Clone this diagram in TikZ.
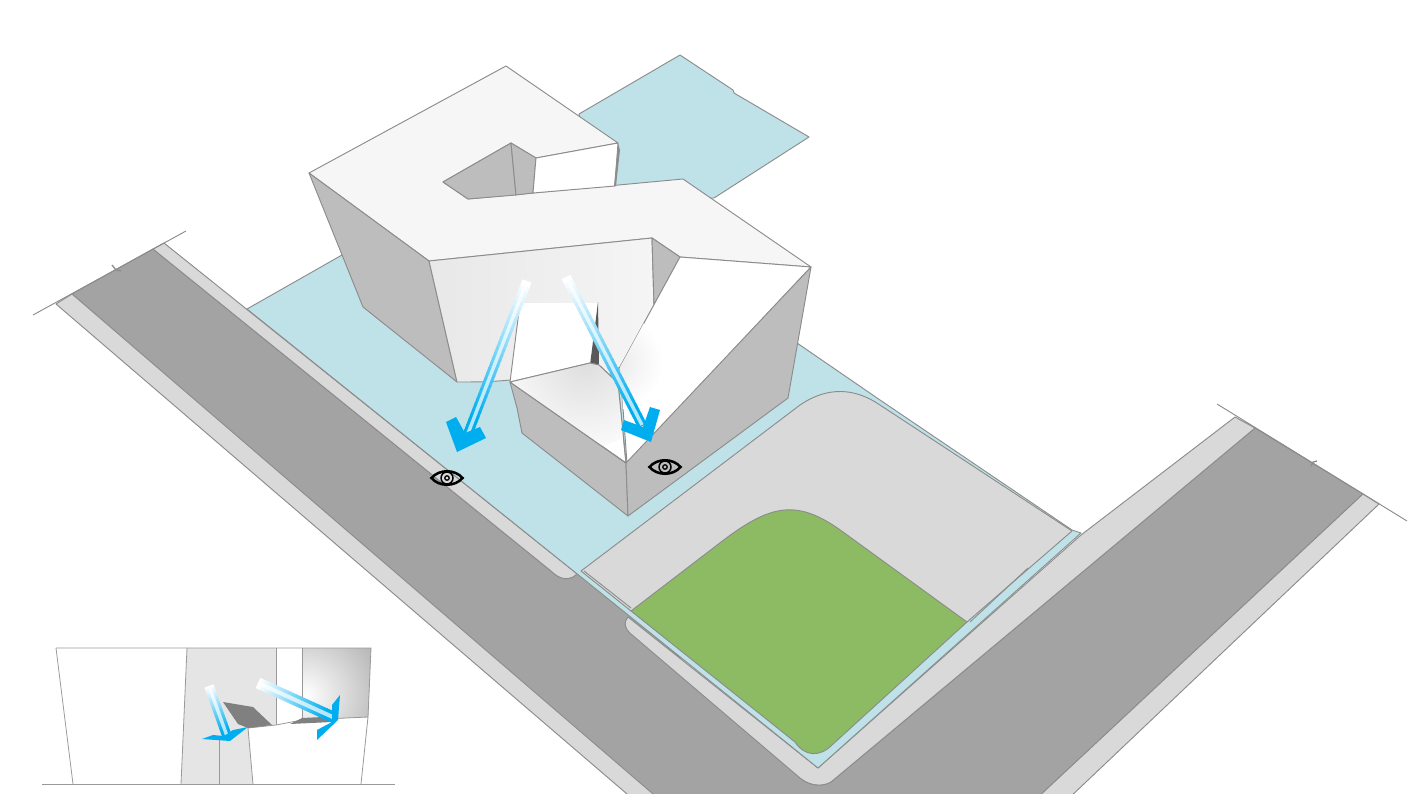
\documentclass[tikz,border=0pt]{standalone}
\usepackage{xcolor}
\usetikzlibrary{arrows.meta, calc, positioning}
\definecolor{sitecolor}{RGB}{191,226,232}
\definecolor{roadcolor}{RGB}{163,163,163}
\definecolor{walkcolor}{RGB}{217,217,217}
\definecolor{lawncolor}{RGB}{140,187,100}
\definecolor{wallcolor}{RGB}{189,189,189}
\definecolor{roofcolor}{RGB}{246,246,246}
\definecolor{flowcolor}{RGB}{0,174,239}
\definecolor{edgecolor}{RGB}{140,140,140}

% shaft from white to blue, pale line down its middle
\newcommand{\flowbar}[3]{
  \foreach \t in {0,...,29} {
    \pgfmathsetmacro\ta{\t/30}
    \pgfmathsetmacro\tb{(\t+1.2)/30}
    \pgfmathsetmacro\mix{min(100,\t*100/26)}
    \draw[line width=#3, flowcolor!\mix!white] ($(#1)!\ta!(#2)$) -- ($(#1)!\tb!(#2)$);
  }
  \draw[white, opacity=0.7, line width=0.36*#3] (#1) -- (#2);
}

\begin{document}
\begin{tikzpicture}[
  x=0.75pt, y=-0.75pt,
  edge/.style={draw=edgecolor, line width=0.7pt, line join=round},
  site/.style={edge, fill=sitecolor},
  road/.style={edge, fill=roadcolor},
  walk/.style={edge, fill=walkcolor},
  wall/.style={edge, fill=wallcolor},
  roof/.style={edge, fill=roofcolor},
  blank/.style={edge, fill=white},
  flowhead/.style={fill=flowcolor},
  insetline/.style={draw=black!40, line width=0.6pt},
  eyeicon/.pic={
    \draw[black, line width=1.9pt] (-15.5,0) .. controls (-8,-9) and (8,-9) .. (15.5,0)
      .. controls (8,9) and (-8,9) .. (-15.5,0) -- cycle;
    \draw[black, line width=1.1pt] (0,0) circle (6);
    \draw[black, line width=1pt] (0,0) circle (2.2);
  }
]
\useasboundingbox (0,0) rectangle (1416,799);
\clip (0,0) rectangle (1416,793);

% ground
\draw[road] (72,294) -- (153,249) -- (551,571) .. controls (558,578) and (567,582) .. (576,575)
  -- (576,572) -- (632,610) -- (800,778) .. controls (810,786) and (822,787) .. (831,782)
  -- (1255,428) -- (1363,494) -- (1035,800) -- (651,800) -- cycle;
\draw[walk] (56,304) -- (72,294) -- (660,800) -- (634,800) -- cycle;
\draw[walk] (1363,494) -- (1379,504) -- (1067,800) -- (1035,800) -- cycle;
\draw[walk] (153,249) -- (164,243) -- (576,573) -- (576,575)
  .. controls (567,582) and (558,578) .. (551,571) -- cycle;
\draw[walk] (1235,417) -- (1255,428) -- (831,782) .. controls (822,787) and (810,786) .. (800,778)
  -- (631,634) .. controls (625,629) and (623,623) .. (628,617) -- (818,768) -- (1081,535) -- cycle;
\draw[edge, line width=1pt] (112,265) -- (116,270) -- (121,271);
\draw[edge, line width=1pt] (1311,466) -- (1313,462) -- (1317,461);
\draw[edge] (1281,444) -- (1285,446);

% site
\draw[site] (579,114) -- (680,55) -- (733,90) -- (734,93) -- (809,137) -- (714,198) -- (600,200) -- cycle;
\draw[site] (247,309) -- (342,255) -- (797,343) -- (880,400) -- (1072,530) -- (1081,533)
  -- (818,768) -- (576,573) -- cycle;

% pad and lawn
\draw[walk] (581,571) -- (800,405) .. controls (828,386) and (855,388) .. (880,405)
  -- (1072,531) -- (967,622) -- (631,611) -- cycle;
\draw[edge] (584,571) -- (631,608);
\draw[edge] (970,622) -- (1028,568);
\draw[edge, fill=lawncolor] (631,611) -- (725,539) .. controls (772,504) and (798,499) .. (843,532)
  -- (967,622) -- (832,745) .. controls (820,757) and (805,757) .. (795,742) -- cycle;

% north wing
\draw[roof] (309,173) -- (506,66) -- (618,143) -- (536,158) -- (511,143) -- (443,182) -- (468,199)
  -- (683,179) -- (811,267) -- (680,257) -- (652,238) -- (429,261) -- cycle;
\draw[wall] (443,182) -- (511,143) -- (516,195) -- (468,199) -- cycle;
\draw[wall] (511,143) -- (536,158) -- (533,193) -- (516,195) -- cycle;
\draw[blank] (536,158) -- (618,143) -- (615,186) -- (533,193) -- cycle;
\fill[edgecolor] (618,143) -- (620,150) -- (616,186) -- (614,186) -- cycle;
\draw[wall] (309,173) -- (429,261) -- (457,382) -- (363,307) -- cycle;

% recess
\shade[edge, left color=black!9, right color=black!4] (429,261) -- (652,238) -- (654,305) -- (620,367)
  -- (600,381) -- (510,380) .. controls (490,382) and (475,382) .. (457,382) -- cycle;
\draw[wall] (652,238) -- (680,257) -- (654,305) -- cycle;
\fill[white] (520,303) -- (597,303) -- (599,367) -- (510,382) -- cycle;
\draw[edge] (520,303) -- (510,382);
\fill[black!65] (598,302) -- (590,365) -- (599,367) -- cycle;
\draw[blank] (680,257) -- (811,267) -- (627,463) -- (620,367) -- cycle;
\begin{scope}
  \clip (680,257) -- (811,267) -- (627,463) -- (620,367) -- cycle;
  \shade[inner color=black!8, outer color=white] (615,362) circle (48);
\end{scope}

% south block
\draw[wall] (510,382) -- (626,463) -- (628,516) -- (522,433) -- (517,408) -- cycle;
\draw[wall] (811,267) -- (788,398) -- (628,516) -- (626,463) -- cycle;
\draw[blank] (510,382) -- (590,363) -- (599,365) -- (618,383) -- (626,463) -- cycle;
\begin{scope}
  \clip (510,382) -- (590,363) -- (599,365) -- (618,383) -- (626,463) -- cycle;
  \shade[inner color=black!13, outer color=black!2] (585,362) circle (85);
\end{scope}
\draw[edge] (510,382) -- (590,363) -- (599,365) -- (618,383) -- (626,463) -- cycle;

% flow arrows
\coordinate (doorfrom) at (527,281);
\coordinate (doorto) at (467,436);
\coordinate (yardfrom) at (566,277);
\coordinate (yardto) at (642,425);
\flowbar{doorfrom}{doorto}{7.2pt}
\fill[flowhead] (446,422) -- (456,417) -- (465,433) -- (480,427) -- (486,438) -- (457,452) -- cycle;
\flowbar{yardfrom}{yardto}{7.2pt}
\fill[flowhead] (650,407) -- (660,410) -- (651,442) -- (621,430) -- (624,420) -- (643,427) -- cycle;

% viewpoints
\pic at (447,478) {eyeicon};
\pic at (665,467) {eyeicon};

% street lines
\draw[edge] (33,315) -- (186,231);
\draw[edge] (1217,404) -- (1407,521);

% inset elevation
\fill[white] (40,640) rectangle (400,793);
\fill[black!10] (187,648) -- (276,648) -- (276,725) -- (248,728) -- (253,784) -- (181,784) -- cycle;
\begin{scope}
  \clip (302,648) -- (371,648) -- (368,717) -- (302,720) -- cycle;
  \fill[black!30] (302,648) rectangle (371,720);
  \shade[inner color=white, outer color=black!30] (305,695) circle (85);
\end{scope}
\draw[insetline] (56,648) -- (371,648) -- (368,717) -- (361,784);
\draw[insetline] (56,648) -- (73,784);
\draw[insetline] (187,648) -- (181,784);
\draw[insetline] (276,648) -- (276,725);
\draw[insetline] (302,648) -- (302,720);
\draw[insetline] (219,740) -- (219,784);
\draw[insetline] (248,728) -- (253,784);
\draw[insetline] (248,728) -- (276,725) -- (302,720) -- (368,717);
\draw[insetline] (42,784) -- (395,784);
\fill[black!50] (223,702) -- (253,707) -- (272,725) -- (248,728) -- (238,724) -- cycle;
\fill[black!50] (290,724) -- (302,718) -- (323,717) -- (332,722) -- cycle;
\coordinate (lowfrom) at (209,686);
\coordinate (lowto) at (227,736);
\coordinate (highfrom) at (258,683);
\coordinate (highto) at (335,718);
\flowbar{lowfrom}{lowto}{7.2pt}
\fill[flowhead] (202,739) -- (213,735) -- (224,736) -- (233,730) -- (248,727) -- (230,741) -- cycle;
\flowbar{highfrom}{highto}{8.4pt}
\fill[flowhead] (340,695) -- (338,720) -- (317,740) -- (317,730) -- (332,722) -- (332,705) -- cycle;
\end{tikzpicture}
\end{document}
